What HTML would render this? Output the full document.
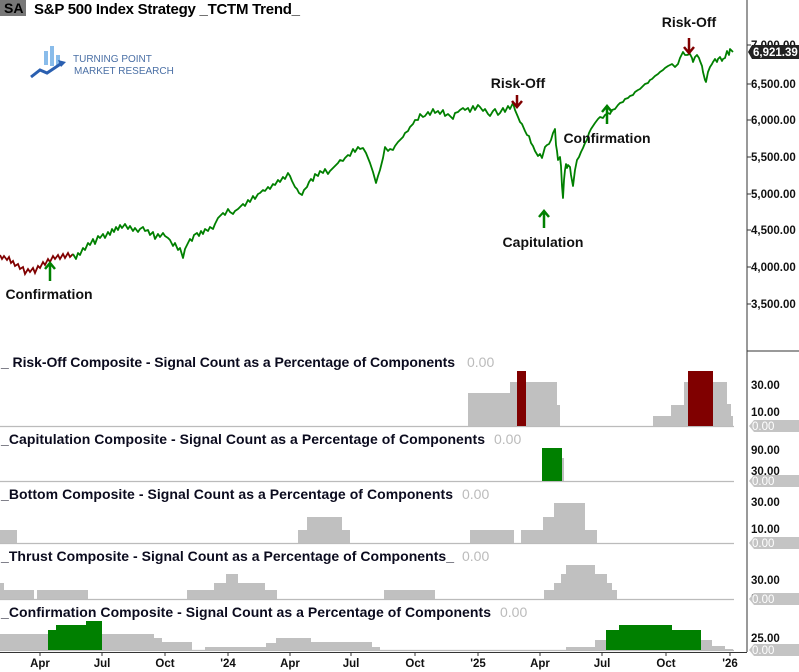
<!DOCTYPE html>
<html><head><meta charset="utf-8"><style>
body{margin:0;background:#fff}
svg{display:block;font-family:"Liberation Sans",sans-serif}
.t{font-weight:bold;font-size:14px;fill:#0b0b1e}
.z{font-size:14px;fill:#bbb}
.ax{font-size:11.5px;fill:#111;font-weight:bold}
.an{font-weight:bold;font-size:14px;fill:#111}
</style></head><body>
<svg width="799" height="672" viewBox="0 0 799 672">
<rect width="799" height="672" fill="#fff"/>
<rect x="0" y="0" width="26" height="16" fill="#777"/>
<text x="4" y="13" style="font-weight:bold;font-size:14px;fill:#000">SA</text>
<text x="34" y="14" textLength="266" style="font-weight:bold;font-size:15px;fill:#000">S&amp;P 500 Index  Strategy  _TCTM Trend_</text>
<g fill="#3b8fdc">
<rect x="44" y="51" width="4" height="14" opacity="0.6"/><rect x="50" y="46" width="4" height="20" opacity="0.6"/><rect x="56" y="55" width="4" height="10" opacity="0.6"/>
<polyline points="31,77 40,70 47,73 62,63" fill="none" stroke="#2a5fb0" stroke-width="3"/>
<polygon points="58,60 66,62 61,67" fill="#2a5fb0"/>
</g>
<text x="73" y="62" style="font-size:10px;fill:#4a6fa5">TURNING POINT</text>
<text x="74" y="74" style="font-size:10px;fill:#4a6fa5">MARKET RESEARCH</text>
<polyline fill="none" stroke="#800000" stroke-width="1.8" points="0,255 2,259 4,256 7,260 9,257 11,263 13,261 15,266 18,264 20,269 23,267 25,274 28,269 30,272 33,268 35,273 38,266 40,268 43,262 45,265 48,259 50,262 53,256 55,259 58,255 60,259 63,254 65,258 68,253 70,257 73,254"/>
<polyline fill="none" stroke="#008000" stroke-width="1.8" stroke-linejoin="round" points="73,254 76,259 78,253 80,255 83,248 85,250 88,243 90,245 93,239 95,244 98,236 100,238 103,234 105,238 108,232 110,235 112,229 114,232 116,227 118,230 120,225 122,228 125,224 128,229 130,226 133,231 135,228 138,232 140,229 143,227 145,231 148,230 150,235 153,232 155,239 158,234 160,237 163,233 165,236 168,238 170,240 173,246 175,243 178,250 180,248 183,258 185,249 187,245 190,239 192,241 194,235 197,233 199,236 201,231 203,234 205,229 208,231 210,227 213,229 215,224 218,218 220,216 223,213 225,215 228,209 230,212 233,214 235,211 238,209 240,207 243,204 245,206 248,200 250,202 253,196 255,199 258,194 260,193 263,190 265,191 268,187 270,189 273,184 275,185 278,180 280,182 283,177 285,179 288,173 290,176 292,181 295,187 297,189 299,193 302,195 304,190 307,187 309,182 311,179 313,181 315,174 318,176 320,171 323,173 325,169 328,174 330,171 333,168 335,166 338,163 340,160 343,161 345,158 348,155 350,156 353,149 355,152 358,147 360,149 363,148 366,153 368,158 370,163 373,172 376,183 378,176 380,170 383,158 385,147 388,151 390,149 393,150 395,146 398,142 400,140 403,137 405,133 408,131 410,127 413,124 415,120 418,120 420,114 423,117 425,116 428,112 430,115 433,109 435,113 438,111 440,114 443,110 445,116 448,114 450,116 453,119 455,113 458,112 460,110 463,108 465,110 468,108 470,112 473,106 475,110 478,105 480,107 483,111 485,109 488,114 490,116 493,111 495,109 498,115 500,113 503,108 505,112 508,106 510,109 513,103 515,110 518,117 520,122 522,124 525,131 527,135 529,136 531,143 533,146 535,151 538,156 540,154 542,158 545,147 547,145 549,144 551,140 553,133 555,129 556,145 557,151 558,160 560,157 561,166 562,186 563,198 564,180 565,170 566,164 567,168 568,165 570,167 571,175 573,186 575,170 577,160 579,157 581,152 583,148 585,143 587,140 589,133 591,129 593,126 595,123 598,119 600,117 603,118 605,115 608,113 610,114 612,110 615,109 618,105 620,103 623,102 625,99 628,98 630,96 633,95 635,92 638,90 640,89 643,86 645,84 648,83 650,80 652,79 655,76 658,74 660,72 663,70 665,68 668,66 670,65 672,64 675,67 678,64 680,58 683,52 685,55 687,55 690,54 692,58 693,62 695,57 697,55 699,58 700,61 702,66 703,72 705,80 706,82 708,72 710,67 712,64 713,62 715,59 717,62 718,59 720,57 722,61 723,59 725,58 727,51 729,55 730,49 732,51 733,52"/>
<text x="518" y="88" text-anchor="middle" class="an">Risk-Off</text>
<path d="M517,95 V106 M512,101 L517,107 L522,101" stroke="#800000" stroke-width="2.5" fill="none"/>
<text x="689" y="27" text-anchor="middle" class="an">Risk-Off</text>
<path d="M689,38 V53 M684,47 L689,53 L694,47" stroke="#800000" stroke-width="2.5" fill="none"/>
<path d="M544,228 V212 M539,217 L544,211 L549,217" stroke="#008000" stroke-width="2.5" fill="none"/>
<text x="543" y="247" text-anchor="middle" class="an">Capitulation</text>
<path d="M607,124 V107 M602,112 L607,106 L612,112" stroke="#008000" stroke-width="2.5" fill="none"/>
<text x="607" y="143" text-anchor="middle" class="an">Confirmation</text>
<path d="M50,281 V264 M45,269 L50,263 L55,269" stroke="#008000" stroke-width="2.5" fill="none"/>
<text x="49" y="299" text-anchor="middle" class="an">Confirmation</text>
<line x1="747" y1="0" x2="747" y2="652" stroke="#333" stroke-width="1"/>
<line x1="747" y1="351" x2="799" y2="351" stroke="#333"/>
<g class="ax">
<text x="751" y="49">7,000.00</text><text x="751" y="88">6,500.00</text><text x="751" y="124">6,000.00</text><text x="751" y="161">5,500.00</text><text x="751" y="198">5,000.00</text><text x="751" y="234">4,500.00</text><text x="751" y="271">4,000.00</text><text x="751" y="308">3,500.00</text>
</g>
<g stroke="#333"><line x1="747" y1="45" x2="751" y2="45"/><line x1="747" y1="84" x2="751" y2="84"/><line x1="747" y1="120" x2="751" y2="120"/><line x1="747" y1="157" x2="751" y2="157"/><line x1="747" y1="194" x2="751" y2="194"/><line x1="747" y1="230" x2="751" y2="230"/><line x1="747" y1="267" x2="751" y2="267"/><line x1="747" y1="304" x2="751" y2="304"/></g>
<path d="M748,52 L752,45 H799 V59 H752 Z" fill="#222"/>
<text x="753" y="56" style="font-size:11.5px;font-weight:bold;fill:#fff">6,921.39</text>
<g stroke="#bbb" stroke-width="1.3">
<line x1="0" y1="426.5" x2="734" y2="426.5"/><line x1="0" y1="481.5" x2="734" y2="481.5"/><line x1="0" y1="543.5" x2="734" y2="543.5"/><line x1="0" y1="599.5" x2="734" y2="599.5"/><line x1="0" y1="650.5" x2="734" y2="650.5"/>
</g>
<text x="1" y="367" textLength="454" class="t">_ Risk-Off Composite - Signal Count as a Percentage of Components</text><text x="467" y="367" class="z">0.00</text>
<text x="1" y="444" textLength="484" class="t">_Capitulation Composite - Signal Count as a Percentage of Components</text><text x="494" y="444" class="z">0.00</text>
<text x="1" y="499" textLength="452" class="t">_Bottom Composite - Signal Count as a Percentage of Components</text><text x="462" y="499" class="z">0.00</text>
<text x="1" y="561" textLength="453" class="t">_Thrust Composite - Signal Count as a Percentage of Components_</text><text x="462" y="561" class="z">0.00</text>
<text x="1" y="617" textLength="490" class="t">_Confirmation Composite - Signal Count as a Percentage of Components</text><text x="500" y="617" class="z">0.00</text>
<g fill="#c0c0c0">
<rect x="468" y="393" width="42" height="33"/><rect x="510" y="382" width="7" height="44"/><rect x="526" y="382" width="31" height="44"/><rect x="557" y="405" width="3" height="21"/>
<rect x="653" y="416" width="18" height="10"/><rect x="671" y="405" width="17" height="21"/><rect x="684" y="382" width="4" height="44"/><rect x="713" y="382" width="14" height="44"/><rect x="727" y="404" width="4" height="22"/><rect x="731" y="416" width="2" height="10"/>
<rect x="562" y="458" width="2" height="23"/>
<rect x="0" y="530" width="17" height="13"/><rect x="298" y="530" width="10" height="13"/><rect x="307" y="517" width="35" height="26"/><rect x="342" y="530" width="8" height="13"/>
<rect x="470" y="530" width="44" height="13"/><rect x="521" y="530" width="22" height="13"/><rect x="543" y="517" width="11" height="26"/><rect x="554" y="503" width="31" height="40"/><rect x="585" y="530" width="12" height="13"/>
<rect x="0" y="583" width="4" height="16"/><rect x="4" y="590" width="30" height="9"/><rect x="37" y="590" width="51" height="9"/><rect x="187" y="590" width="27" height="9"/><rect x="214" y="583" width="12" height="16"/><rect x="226" y="574" width="12" height="25"/><rect x="238" y="583" width="27" height="16"/><rect x="265" y="590" width="12" height="9"/><rect x="384" y="590" width="51" height="9"/>
<rect x="544" y="590" width="10" height="9"/><rect x="554" y="583" width="7" height="16"/><rect x="561" y="574" width="5" height="25"/><rect x="566" y="565" width="29" height="34"/><rect x="595" y="574" width="12" height="25"/><rect x="607" y="583" width="5" height="16"/><rect x="612" y="590" width="5" height="9"/>
<rect x="0" y="634" width="48" height="16"/><rect x="102" y="634" width="52" height="16"/><rect x="154" y="638" width="8" height="12"/><rect x="162" y="642" width="30" height="8"/><rect x="205" y="647" width="61" height="3"/><rect x="266" y="643" width="10" height="7"/><rect x="276" y="638" width="35" height="12"/><rect x="311" y="642" width="61" height="8"/><rect x="372" y="647" width="8" height="3"/>
<rect x="566" y="647" width="29" height="3"/><rect x="595" y="640" width="11" height="10"/><rect x="701" y="640" width="11" height="10"/><rect x="712" y="646" width="13" height="4"/><rect x="725" y="649" width="8" height="1"/>
</g>
<g fill="#800000"><rect x="517" y="371" width="9" height="55"/><rect x="688" y="371" width="25" height="55"/></g>
<g fill="#008000">
<rect x="542" y="448" width="20" height="33"/>
<rect x="48" y="630" width="8" height="20"/><rect x="56" y="625" width="30" height="25"/><rect x="86" y="621" width="16" height="29"/>
<rect x="606" y="630" width="13" height="20"/><rect x="619" y="625" width="53" height="25"/><rect x="672" y="630" width="29" height="20"/>
</g>
<g class="ax">
<text x="751" y="389">30.00</text><text x="751" y="416">10.00</text>
<text x="751" y="454">90.00</text><text x="751" y="475">30.00</text>
<text x="751" y="506">30.00</text><text x="751" y="533">10.00</text>
<text x="751" y="584">30.00</text><text x="751" y="602">10.00</text>
<text x="751" y="642">25.00</text>
</g>
<g fill="#c4c4c4">
<path d="M749,426 L754,420 H799 V432 H754 Z"/><path d="M749,481 L754,475 H799 V487 H754 Z"/><path d="M749,543 L754,537 H799 V549 H754 Z"/><path d="M749,599 L754,593 H799 V605 H754 Z"/><path d="M749,650 L754,644 H799 V656 H754 Z"/>
</g>
<g style="font-size:11.5px;fill:#fff">
<text x="752" y="430">0.00</text><text x="752" y="485">0.00</text><text x="752" y="547">0.00</text><text x="752" y="603">0.00</text><text x="752" y="654">0.00</text>
</g>
<line x1="0" y1="652.5" x2="747" y2="652.5" stroke="#333"/>
<g stroke="#333">
<line x1="40" y1="652" x2="40" y2="656"/><line x1="102" y1="652" x2="102" y2="656"/><line x1="165" y1="652" x2="165" y2="656"/><line x1="228" y1="652" x2="228" y2="656"/><line x1="290" y1="652" x2="290" y2="656"/><line x1="351" y1="652" x2="351" y2="656"/><line x1="415" y1="652" x2="415" y2="656"/><line x1="478" y1="652" x2="478" y2="656"/><line x1="540" y1="652" x2="540" y2="656"/><line x1="602" y1="652" x2="602" y2="656"/><line x1="666" y1="652" x2="666" y2="656"/><line x1="730" y1="652" x2="730" y2="656"/>
</g>
<g class="ax" text-anchor="middle">
<text x="40" y="667">Apr</text><text x="102" y="667">Jul</text><text x="165" y="667">Oct</text><text x="228" y="667">'24</text><text x="290" y="667">Apr</text><text x="351" y="667">Jul</text><text x="415" y="667">Oct</text><text x="478" y="667">'25</text><text x="540" y="667">Apr</text><text x="602" y="667">Jul</text><text x="666" y="667">Oct</text><text x="730" y="667">'26</text>
</g>
</svg>
</body></html>
